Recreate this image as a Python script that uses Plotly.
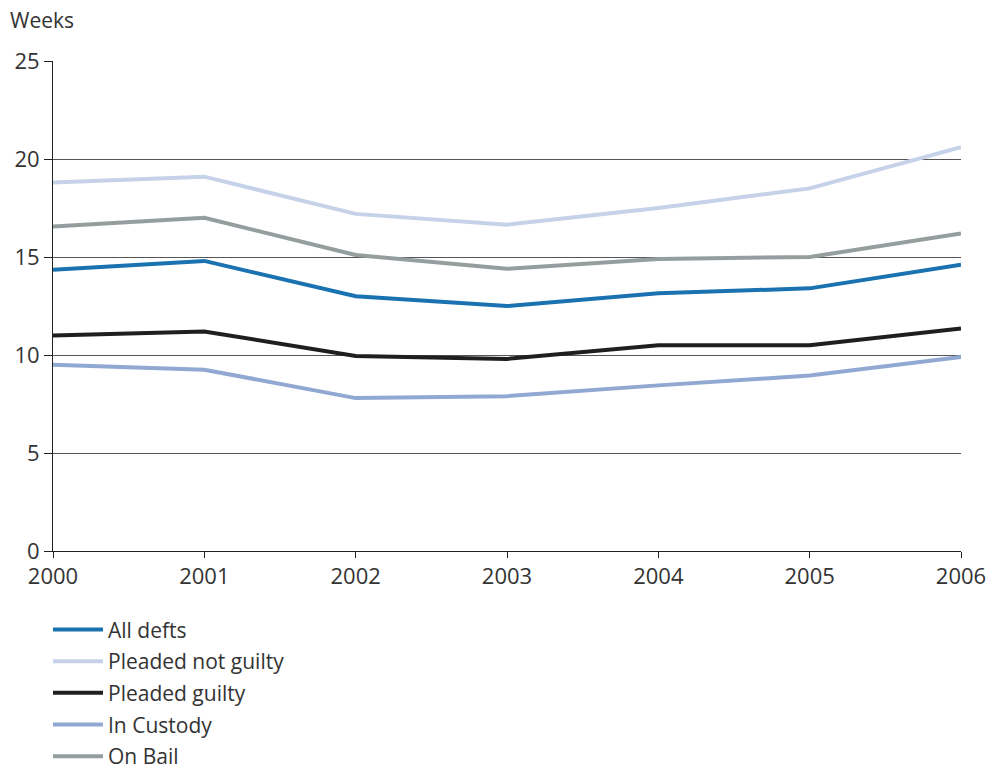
import plotly.graph_objects as go

# Average waiting time (weeks) by defendant group
years = [2000, 2001, 2002, 2003, 2004, 2005, 2006]
all_defts = [14.35, 14.8, 13.0, 12.5, 13.15, 13.4, 14.6]
pleaded_not_guilty = [18.8, 19.1, 17.2, 16.65, 17.5, 18.5, 20.6]
pleaded_guilty = [11.0, 11.2, 9.95, 9.8, 10.5, 10.5, 11.35]
in_custody = [9.5, 9.25, 7.8, 7.9, 8.45, 8.95, 9.9]
on_bail = [16.55, 17.0, 15.1, 14.4, 14.9, 15.0, 16.2]

series = [
    ("All defts", all_defts, "#1a72b0"),
    ("Pleaded not guilty", pleaded_not_guilty, "#c6d2e9"),
    ("Pleaded guilty", pleaded_guilty, "#1f201e"),
    ("In Custody", in_custody, "#90a8d2"),
    ("On Bail", on_bail, "#959e9e"),
]

font_family = "Open Sans, Noto Sans, DejaVu Sans, sans-serif"

fig = go.Figure()
for i, (name, values, color) in enumerate(series):
    fig.add_trace(go.Scatter(
        x=years, y=values, name=name, mode="lines",
        line=dict(color=color, width=4),
        legendgroup=f"g{i}",
    ))

fig.update_layout(
    width=991, height=767,
    margin=dict(l=53, r=30, t=61, b=216, autoexpand=False),
    plot_bgcolor="white", paper_bgcolor="white",
    font=dict(family=font_family, size=22, color="#333333"),
    xaxis=dict(
        range=[2000, 2006], tickvals=years, ticktext=[str(y) for y in years],
        showline=True, linecolor="#222222", linewidth=1,
        ticks="outside", ticklen=6, tickcolor="#222222",
        showgrid=False, zeroline=False,
        tickfont=dict(size=22, color="#333333"),
    ),
    yaxis=dict(
        range=[0, 25], dtick=5,
        showline=True, linecolor="#222222", linewidth=1,
        ticks="outside", ticklen=8, tickcolor="#222222",
        showgrid=True, gridcolor="#555555", gridwidth=1,
        zeroline=False,
        tickfont=dict(size=22, color="#333333"),
    ),
    legend=dict(
        x=-0.0055, xanchor="left", y=-0.119, yanchor="top",
        orientation="v", traceorder="grouped", tracegroupgap=1.4,
        font=dict(size=21, color="#333333"),
        itemwidth=50, bgcolor="rgba(0,0,0,0)",
    ),
    showlegend=True,
    annotations=[dict(
        text="Weeks", xref="paper", yref="paper",
        x=-0.05, y=1.084, xanchor="left", yanchor="middle",
        showarrow=False, font=dict(size=21, color="#333333"),
    )],
)

fig.write_html("out.html")
